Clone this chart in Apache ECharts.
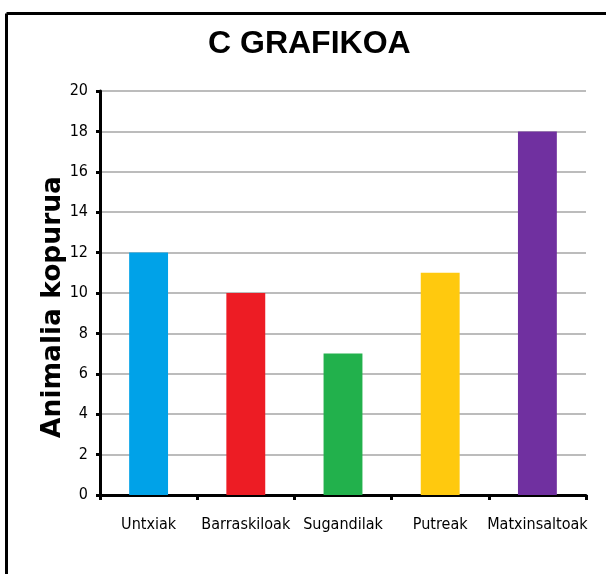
<!DOCTYPE html>
<html>
<head>
<meta charset="utf-8">
<script src="https://cdn.jsdelivr.net/npm/echarts@6/dist/echarts.min.js"></script>
<style>
  html, body { margin: 0; padding: 0; background: #fff; }
  #myChart { width: 606px; height: 574px; }
</style>
</head>
<body>
<div id="myChart"></div>
<script>
var categories = ["Untxiak", "Barraskiloak", "Sugandilak", "Putreak", "Matxinsaltoak"];
var values = [12, 10, 7, 11, 18];
var barColors = ["#00a2e8", "#ed1c24", "#22b14c", "#ffc90e", "#7030a0"];

var chartDom = document.getElementById("myChart");
var myChart = echarts.init(chartDom);
var option;

option = {
  backgroundColor: "#fff",
  animation: false,
  title: {
    text: "C GRAFIKOA",
    left: 203,
    top: 23,
    textStyle: {
      fontFamily: "Liberation Sans",
      fontWeight: "bold",
      fontSize: 32,
      color: "#000",
    },
  },
  graphic: [
    {
      type: "line",
      shape: { x1: 6.5, y1: 13.5, x2: 606, y2: 13.5 },
      style: { stroke: "#000", lineWidth: 3 },
    },
    {
      type: "line",
      shape: { x1: 6.5, y1: 13.5, x2: 6.5, y2: 574 },
      style: { stroke: "#000", lineWidth: 3 },
    },
  ],
  grid: {
    left: 100,
    right: 20,
    top: 91,
    bottom: 79,
  },
  xAxis: {
    type: "category",
    data: categories,
    axisLine: {
      lineStyle: { color: "#000", width: 3 },
    },
    axisTick: {
      show: true,
      interval: 0,
      length: 5,
      lineStyle: { color: "#000", width: 3 },
    },
    axisLabel: {
      interval: 0,
      margin: 22,
      fontFamily: "DejaVu Sans Condensed",
      fontSize: 16,
      color: "#000",
    },
  },
  yAxis: {
    type: "value",
    min: 0,
    max: 20,
    interval: 2,
    name: "Animalia kopurua",
    nameLocation: "middle",
    nameGap: 33,
    nameMoveOverlap: false,
    nameRotate: 90,
    nameTextStyle: {
      fontFamily: "DejaVu Sans",
      fontWeight: "bold",
      fontSize: 26.5,
      color: "#000",
      padding: [0, 28, 0, 0],
    },
    axisLine: {
      show: true,
      lineStyle: { color: "#000", width: 3 },
    },
    axisTick: {
      show: true,
      length: 4,
      lineStyle: { color: "#000", width: 3 },
    },
    axisLabel: {
      margin: 12,
      fontFamily: "DejaVu Sans Condensed",
      fontSize: 16,
      color: "#000",
    },
    splitLine: {
      lineStyle: { color: "#a6a6a6", width: 1.5 },
    },
  },
  series: [
    {
      type: "bar",
      barWidth: "40%",
      data: values.map(function (v, i) {
        return { value: v, itemStyle: { color: barColors[i] } };
      }),
    },
  ],
};

option && myChart.setOption(option);
</script>
</body>
</html>
